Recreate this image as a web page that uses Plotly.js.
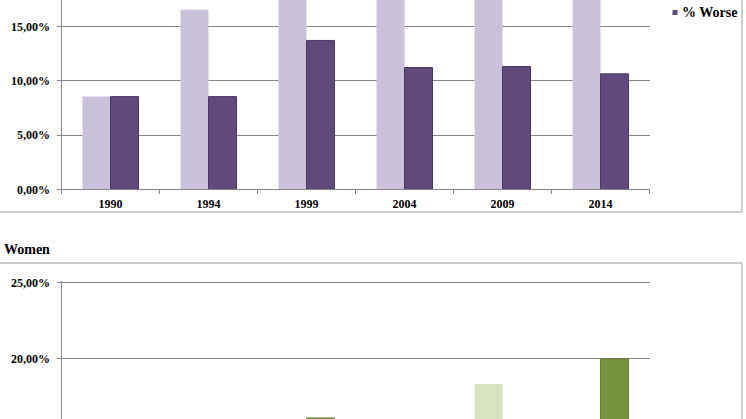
<!DOCTYPE html>
<html>
<head>
<meta charset="utf-8">
<script src="https://cdn.plot.ly/plotly-3.0.1.min.js"></script>
<style>
  html, body { margin: 0; padding: 0; background: #ffffff; overflow: hidden; }
  #chart { width: 746px; height: 419px; }
</style>
</head>
<body>
<div id="chart"></div>
<script>
// ---- data ----
const years = ['1990', '1994', '1999', '2004', '2009', '2014'];
const betterName = '% Better';
const worseName = '% Worse';
const womenTitle = 'Women';
// Men (upper chart)
const menBetter = [0.0855, 0.1657, 0.196, 0.203, 0.208, 0.212];
const menWorse  = [0.0855, 0.0855, 0.1373, 0.1123, 0.1132, 0.1065];
// Women (lower chart)
const womenBetter = [0.118, 0.132, 0.148, 0.152, 0.1836, 0.157];
const womenWorse  = [0.102, 0.121, 0.1612, 0.146, 0.154, 0.200];

// ---- styling ----
const W = 746, H = 419;
const px = v => v / W;
const py = v => 1 - v / H;
const lightPurple = '#ccc1da', darkPurple = '#604a7b';
const lightGreen = '#d7e4bd', darkGreen = '#77933c';
const gridCol = '#868686', borderCol = '#bdbdbd';
const serif = 'Liberation Serif';
const tickFont = { family: serif, size: 12, weight: 700, color: '#000000' };
const labelFont = { family: serif, size: 14, weight: 700, color: '#000000' };

const traces = [
  { type: 'bar', x: years, y: menBetter, name: betterName, xaxis: 'x', yaxis: 'y',
    marker: { color: lightPurple, line: { width: 0 } }, hoverinfo: 'skip' },
  { type: 'bar', x: years, y: menWorse, name: worseName, xaxis: 'x', yaxis: 'y',
    marker: { color: darkPurple, line: { color: '#4a3862', width: 1 } }, hoverinfo: 'skip' },
  { type: 'bar', x: years, y: womenBetter, name: betterName, xaxis: 'x2', yaxis: 'y2',
    marker: { color: lightGreen, line: { width: 0 } }, hoverinfo: 'skip' },
  { type: 'bar', x: years, y: womenWorse, name: worseName, xaxis: 'x2', yaxis: 'y2',
    marker: { color: darkGreen, line: { color: '#67812f', width: 1 } }, hoverinfo: 'skip' }
];

const xDomain = [px(61.5), px(649.5)];
const yAxisCommon = {
  dtick: 0.05, tick0: 0, tickformat: '.2%',
  showline: true, linecolor: gridCol, linewidth: 1,
  ticks: 'outside', ticklen: 4, tickcolor: gridCol, tickwidth: 1,
  showgrid: true, gridcolor: gridCol, gridwidth: 1,
  zeroline: false, tickfont: tickFont, ticklabelstandoff: 4, fixedrange: true
};

const layout = {
  width: W, height: H,
  margin: { l: 0, r: 0, t: 0, b: 0 },
  paper_bgcolor: '#ffffff', plot_bgcolor: '#ffffff',
  font: { family: serif },
  separators: ', ',
  barmode: 'group', bargap: 0.4286, bargroupgap: 0,
  showlegend: false,
  xaxis: {
    domain: xDomain, anchor: 'y', type: 'category',
    showline: true, linecolor: gridCol, linewidth: 1,
    ticks: 'outside', tickson: 'boundaries', ticklen: 4, tickcolor: gridCol,
    showgrid: false, zeroline: false, tickfont: tickFont, ticklabelstandoff: 3, fixedrange: true
  },
  yaxis: Object.assign({}, yAxisCommon, {
    domain: [py(189.3), 1], range: [0, 0.1746]
  }),
  xaxis2: {
    domain: xDomain, anchor: 'y2', type: 'category',
    showline: false, showticklabels: false, ticks: '', showgrid: false, zeroline: false, fixedrange: true
  },
  yaxis2: Object.assign({}, yAxisCommon, {
    domain: [0, py(281)], range: [0.16053, 0.2513]
  }),
  shapes: [
    // upper chart frame (right + bottom edges visible)
    { type: 'line', xref: 'paper', yref: 'paper', x0: px(-2), x1: px(742), y0: py(212), y1: py(212),
      line: { color: borderCol, width: 1.5 } },
    { type: 'line', xref: 'paper', yref: 'paper', x0: px(742), x1: px(742), y0: py(-5), y1: py(212),
      line: { color: borderCol, width: 1.5 } },
    // lower chart frame (top + right edges visible)
    { type: 'line', xref: 'paper', yref: 'paper', x0: px(-2), x1: px(742), y0: py(263), y1: py(263),
      line: { color: borderCol, width: 1.5 } },
    { type: 'line', xref: 'paper', yref: 'paper', x0: px(742), x1: px(742), y0: py(263), y1: py(425),
      line: { color: borderCol, width: 1.5 } },
    // legend key for % Worse
    { type: 'rect', xref: 'paper', yref: 'paper', x0: px(672.5), x1: px(677.5), y0: py(10), y1: py(15),
      fillcolor: darkPurple, line: { width: 0 } }
  ],
  annotations: [
    { xref: 'paper', yref: 'paper', x: px(680), y: py(12), xanchor: 'left', yanchor: 'middle',
      text: worseName, showarrow: false, font: labelFont },
    { xref: 'paper', yref: 'paper', x: px(2), y: py(249.5), xanchor: 'left', yanchor: 'middle',
      text: womenTitle, showarrow: false, font: labelFont }
  ]
};

Plotly.newPlot('chart', traces, layout, { displayModeBar: false, staticPlot: true });
</script>
</body>
</html>
